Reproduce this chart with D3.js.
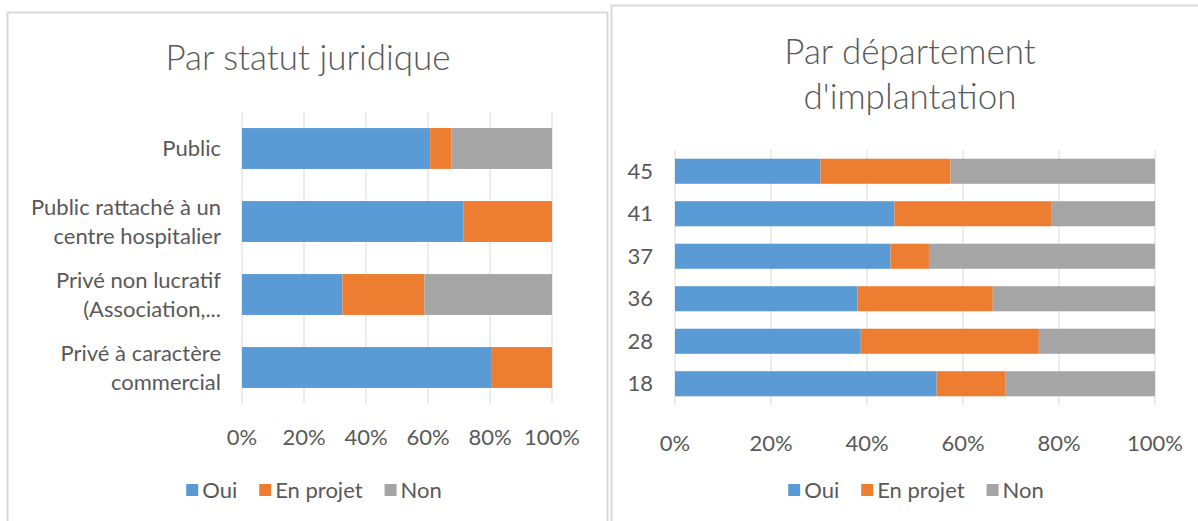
<!DOCTYPE html>
<html>
<head>
<meta charset="utf-8">
<style>
body {margin: 0; background: #fff; font-family: Lato, "Open Sans", sans-serif;}
svg text {fill: #595959;}
</style>
<script src="https://cdnjs.cloudflare.com/ajax/libs/d3/7.8.5/d3.min.js"></script>
</head>
<body>
<div id="chart-container"></div>
<script>
    // data (shares, 0..1)
    const series = ["Oui", "En projet", "Non"];
    const colors = ["#5B9BD5", "#ED7D31", "#A5A5A5"];
    const ticks = [0, 0.2, 0.4, 0.6, 0.8, 1];

    const statutCats = ["Public", "Public rattaché à un|centre hospitalier", "Privé non lucratif|(Association,...", "Privé à caractère|commercial"];
    const statutOui = [0.607, 0.715, 0.324, 0.806];
    const statutProjet = [0.069, 0.285, 0.264, 0.194];
    const statutNon = [0.324, 0, 0.412, 0];

    const deptCats = ["45", "41", "37", "36", "28", "18"];
    const deptOui = [0.303, 0.457, 0.449, 0.380, 0.387, 0.545];
    const deptProjet = [0.271, 0.328, 0.080, 0.282, 0.371, 0.144];
    const deptNon = [0.426, 0.215, 0.471, 0.338, 0.242, 0.311];

    const svg = d3.select("#chart-container")
        .append("svg")
        .attr("width", 1198)
        .attr("height", 521);

    // panel frames
    svg.append("rect").attr("x", 7.5).attr("y", 12.5).attr("width", 600).attr("height", 540)
        .attr("fill", "#fff").attr("stroke", "#d9d9d9").attr("stroke-width", 2);
    svg.append("rect").attr("x", 611.5).attr("y", 5.5).attr("width", 620).attr("height", 540)
        .attr("fill", "#fff").attr("stroke", "#d9d9d9").attr("stroke-width", 2);

    function drawChart(opt) {
        const g = svg.append("g");
        const rows = opt.cats.map((c, i) => ({cat: c, Oui: opt.oui[i], "En projet": opt.projet[i], Non: opt.non[i]}));
        const stacked = d3.stack().keys(series)(rows);

        const x = d3.scaleLinear().domain([0, 1]).range([opt.x0, opt.x1]);
        const y = d3.scaleBand().domain(opt.cats).range([opt.y0, opt.y1]).paddingInner(opt.pad).paddingOuter(opt.pad / 2);
        const color = d3.scaleOrdinal().domain(series).range(colors);

        // title
        opt.title.forEach((t, i) => {
            g.append("text")
                .attr("x", opt.titleX)
                .attr("y", opt.titleY + i * opt.titleLine)
                .attr("text-anchor", "middle")
                .style("font-size", "35px")
                .style("font-weight", 300)
                .text(t);
        });

        // gridlines
        g.append("g").selectAll("line")
            .data(ticks)
            .join("line")
            .attr("x1", d => x(d)).attr("x2", d => x(d))
            .attr("y1", opt.y0).attr("y2", opt.y1)
            .attr("stroke", "#d9d9d9").attr("stroke-width", 1);

        // bars
        g.append("g").selectAll("g")
            .data(stacked)
            .join("g")
            .attr("fill", d => color(d.key))
            .selectAll("rect")
            .data(d => d)
            .join("rect")
            .attr("x", d => x(d[0]))
            .attr("y", d => y(d.data.cat))
            .attr("width", d => x(d[1]) - x(d[0]))
            .attr("height", y.bandwidth());

        // category labels
        const lab = g.append("g").selectAll("text")
            .data(opt.cats)
            .join("text")
            .attr("text-anchor", "end")
            .attr("x", opt.labelX)
            .style("font-size", opt.labelSize + "px");
        lab.each(function(d) {
            const lines = d.split("|");
            const cy = y(d) + y.bandwidth() / 2;
            lines.forEach((l, i) => {
                d3.select(this).append("tspan")
                    .attr("x", opt.labelX)
                    .attr("y", cy + (i - (lines.length - 1) / 2) * 29)
                    .attr("dy", "0.35em")
                    .text(l);
            });
        });

        // x axis tick labels
        g.append("g").selectAll("text")
            .data(ticks)
            .join("text")
            .attr("x", d => x(d))
            .attr("y", opt.tickY)
            .attr("dy", "0.35em")
            .attr("text-anchor", "middle")
            .style("font-size", "22px")
            .text(d3.format(".0%"));

        // legend, laid out from measured text widths and centred
        const leg = g.append("g");
        let cx = 0;
        series.forEach((s, i) => {
            leg.append("rect").attr("x", cx).attr("y", -6).attr("width", 12).attr("height", 12).attr("fill", colors[i]);
            const t = leg.append("text").attr("x", cx + 16).attr("y", 0).attr("dy", "0.35em")
                .style("font-size", "22px").text(s);
            cx += 16 + t.node().getComputedTextLength() + 22;
        });
        const w = cx - 22;
        leg.attr("transform", `translate(${opt.legX - w / 2},${opt.legY})`);
    }

    drawChart({
        cats: statutCats, oui: statutOui, projet: statutProjet, non: statutNon,
        x0: 242, x1: 552, y0: 112, y1: 404, pad: 0.44,
        title: ["Par statut juridique"], titleX: 308, titleY: 70, titleLine: 0,
        labelX: 221, labelSize: 22, tickY: 437, legX: 314, legY: 490
    });

    drawChart({
        cats: deptCats, oui: deptOui, projet: deptProjet, non: deptNon,
        x0: 675, x1: 1155, y0: 150, y1: 405, pad: 0.41,
        title: ["Par département", "d'implantation"], titleX: 910, titleY: 64, titleLine: 45,
        labelX: 653, labelSize: 22, tickY: 443, legX: 916, legY: 490
    });
</script>
</body>
</html>
